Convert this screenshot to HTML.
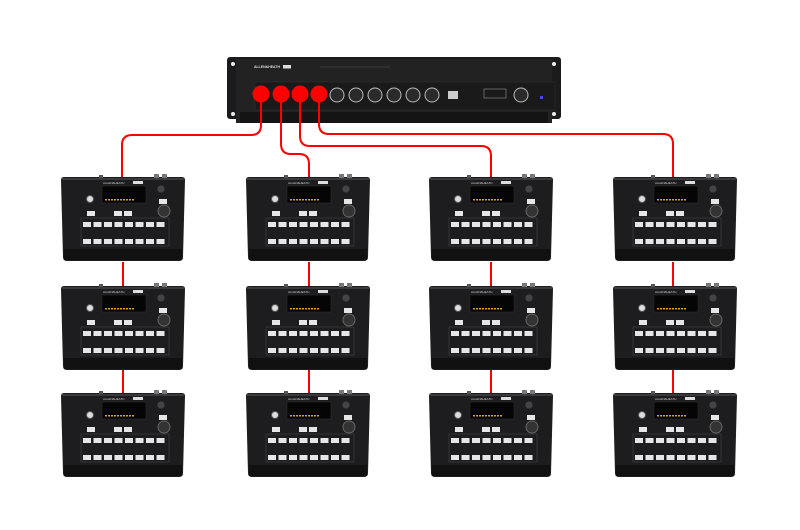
<!DOCTYPE html>
<html><head><style>
html,body{margin:0;padding:0;background:#fff;}
svg{display:block;}
</style></head><body>
<svg width="800" height="530" viewBox="0 0 800 530" xmlns="http://www.w3.org/2000/svg" font-family="Liberation Sans, sans-serif">
<defs>
<g id="mx">
  <path d="M0,3 Q0,0 3,0 L121,0 Q124,0 124,3 L122,80 Q122,84 118,84 L6,84 Q2,84 2,80 Z" fill="#1d1d1f"/>
  <rect x="3" y="72" width="118" height="11" fill="#111"/>
  <rect x="1" y="1" width="122" height="2" fill="#3a3a3c"/>
  <rect x="38" y="-2" width="4" height="3" fill="#555"/>
  <rect x="93" y="-3" width="5" height="4" fill="#777"/>
  <rect x="101" y="-3" width="5" height="4" fill="#777"/>
  <text x="42" y="7" font-size="3" fill="#ccc">ALLEN&amp;HEATH</text>
  <rect x="72" y="4" width="10" height="3" fill="#ddd"/>
  <rect x="41" y="9" width="44" height="17" fill="#050505" stroke="#333" stroke-width="0.5"/>
  <g fill="#e0a010">
    <rect x="44" y="22" width="2" height="1.5"/><rect x="47" y="22" width="2" height="1.5"/><rect x="50" y="22" width="2" height="1.5"/><rect x="53" y="22" width="2" height="1.5"/><rect x="56" y="22" width="2" height="1.5"/><rect x="59" y="22" width="2" height="1.5"/><rect x="62" y="22" width="2" height="1.5"/><rect x="65" y="22" width="2" height="1.5"/><rect x="68" y="22" width="2" height="1.5"/><rect x="71" y="22" width="2" height="1.5"/>
  </g>
  <circle cx="29" cy="22" r="3.5" fill="#ddd" stroke="#555"/>
  <circle cx="100" cy="12" r="4" fill="#444" stroke="#222"/>
  <circle cx="103" cy="34" r="6" fill="#333" stroke="#666"/>
  <g fill="#e6e6e6">
    <rect x="98" y="22" width="8" height="5"/>
    <rect x="26" y="34" width="8" height="5"/>
    <rect x="53" y="34" width="8" height="5"/>
    <rect x="63" y="34" width="8" height="5"/>
  </g>
  <rect x="20" y="41" width="88" height="28" fill="none" stroke="#444" stroke-width="0.6"/>
  <g fill="#e6e6e6">
    <rect x="22" y="45" width="8" height="5"/><rect x="32.5" y="45" width="8" height="5"/><rect x="43" y="45" width="8" height="5"/><rect x="53.5" y="45" width="8" height="5"/><rect x="64" y="45" width="8" height="5"/><rect x="74.5" y="45" width="8" height="5"/><rect x="85" y="45" width="8" height="5"/><rect x="95.5" y="45" width="8" height="5"/>
    <rect x="22" y="62" width="8" height="5"/><rect x="32.5" y="62" width="8" height="5"/><rect x="43" y="62" width="8" height="5"/><rect x="53.5" y="62" width="8" height="5"/><rect x="64" y="62" width="8" height="5"/><rect x="74.5" y="62" width="8" height="5"/><rect x="85" y="62" width="8" height="5"/><rect x="95.5" y="62" width="8" height="5"/>
  </g>
</g>
</defs>

<!-- hub -->
<rect x="227" y="57" width="334" height="62" rx="3" fill="#1b1b1d"/>
<rect x="236" y="59" width="316" height="64" fill="#222"/>
<rect x="240" y="112" width="308" height="11" fill="#141414"/>
<circle cx="233" cy="64" r="2" fill="#eee"/><circle cx="554" cy="64" r="2" fill="#eee"/>
<circle cx="233" cy="114" r="2" fill="#eee"/><circle cx="554" cy="114" r="2" fill="#eee"/>
<text x="254" y="68" font-size="3.5" fill="#ddd" font-weight="bold">ALLEN&amp;HEATH</text>
<rect x="283" y="65" width="8" height="3.5" fill="#ddd"/>
<line x1="320" y1="67" x2="390" y2="67" stroke="#666" stroke-width="0.4"/>
<rect x="255" y="82" width="300" height="28" fill="#1a1a1a" stroke="#333" stroke-width="0.5"/>
<g fill="#2a2a2a" stroke="#bbb" stroke-width="1">
  <circle cx="337" cy="95" r="7"/><circle cx="356" cy="95" r="7"/><circle cx="375" cy="95" r="7"/><circle cx="394" cy="95" r="7"/><circle cx="413" cy="95" r="7"/><circle cx="432" cy="95" r="7"/><circle cx="521" cy="95" r="7"/>
</g>
<rect x="448" y="91" width="10" height="8" fill="#ccc"/>
<rect x="484" y="89" width="22" height="9" fill="none" stroke="#aaa" stroke-width="0.5"/>
<rect x="540" y="96" width="3" height="3" fill="#44f"/>
<g fill="#ff0000">
  <circle cx="261" cy="94" r="8.5"/><circle cx="281" cy="94" r="8.5"/><circle cx="300" cy="94" r="8.5"/><circle cx="319" cy="94" r="8.5"/>
</g>

<!-- cables -->
<g fill="none" stroke="#ff0000" stroke-width="2">
  <path d="M261,100 V125 Q261,135 251,135 H132 Q122,135 122,145 V178"/>
  <path d="M281,100 V144 Q281,154 291,154 H299 Q309,154 309,164 V178"/>
  <path d="M300,100 V136 Q300,146 310,146 H481 Q491,146 491,156 V178"/>
  <path d="M319,100 V124 Q319,134 329,134 H663 Q673,134 673,144 V178"/>
  <path d="M123,262 V286 M123,370 V393"/>
  <path d="M309,262 V286 M309,370 V393"/>
  <path d="M491,262 V286 M491,370 V393"/>
  <path d="M673,262 V286 M673,370 V393"/>
</g>

<!-- mixers -->
<use href="#mx" x="61" y="177"/><use href="#mx" x="246" y="177"/><use href="#mx" x="429" y="177"/><use href="#mx" x="613" y="177"/>
<use href="#mx" x="61" y="286"/><use href="#mx" x="246" y="286"/><use href="#mx" x="429" y="286"/><use href="#mx" x="613" y="286"/>
<use href="#mx" x="61" y="393"/><use href="#mx" x="246" y="393"/><use href="#mx" x="429" y="393"/><use href="#mx" x="613" y="393"/>
</svg>
</body></html>
